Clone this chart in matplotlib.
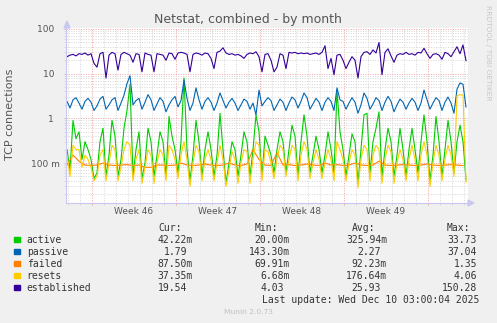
import numpy as np
import matplotlib
matplotlib.use('Agg')
import matplotlib.pyplot as plt
from matplotlib.ticker import FixedLocator, FixedFormatter, LogLocator, NullFormatter
from matplotlib.patches import Polygon, Rectangle
from matplotlib.transforms import blended_transform_factory

# samples every 6 hours, failed every 12 hours
established = [24, 26, 27, 25, 28, 27, 29, 26, 28, 17, 14, 28, 30, 8, 26, 30, 28, 12, 27, 30,
               28, 26, 18, 28, 27, 11, 29, 27, 26, 11, 28, 27, 26, 20, 29, 28, 21, 29, 30, 29,
               27, 11, 27, 29, 28, 26, 29, 28, 22, 13, 30, 32, 38, 29, 27, 28, 26, 27, 25, 22,
               27, 29, 28, 31, 24, 11, 27, 28, 20, 11, 14, 28, 26, 13, 30, 29, 30, 28, 29, 28,
               29, 27, 28, 29, 27, 30, 42, 13, 22, 9.5, 26, 27, 20, 13, 18, 24, 20, 8, 24, 30,
               31, 27, 34, 29, 50, 9.5, 30, 36, 25, 18, 26, 28, 27, 30, 27, 28, 26, 30, 29, 37,
               28, 22, 27, 28, 26, 21, 30, 28, 24, 31, 40, 28, 44, 19.54]
passive = [2.4, 1.7, 2.6, 2.9, 2.2, 1.6, 2.4, 2.8, 2.3, 1.5, 1.9, 2.7, 3.1, 1.6, 2.0, 2.6, 2.9, 1.5, 2.2, 3.3,
           6.0, 9.0, 2.0, 2.5, 2.8, 1.6, 2.3, 3.4, 2.6, 1.5, 2.1, 2.9, 2.4, 1.4, 2.0, 2.6, 3.1, 1.8, 2.5, 7.2,
           2.8, 1.5, 2.2, 4.8, 2.6, 1.6, 2.4, 2.9, 2.3, 1.5, 2.2, 3.7, 2.5, 1.7, 2.3, 2.8, 2.2, 1.5, 2.0, 2.7,
           2.4, 1.6, 2.2, 1.2, 4.3, 1.9, 2.4, 2.9, 2.5, 1.5, 2.0, 2.7, 2.3, 1.5, 2.2, 3.0, 2.6, 1.7, 2.4, 3.7,
           2.9, 1.6, 2.1, 2.8, 2.3, 1.5, 2.3, 2.9, 2.4, 1.5, 4.8, 2.6, 2.4, 1.6, 2.2, 2.9, 2.3, 1.3, 2.0, 3.7,
           2.8, 1.6, 2.1, 2.9, 2.5, 1.5, 2.3, 3.1, 2.4, 1.4, 2.0, 2.7, 2.3, 1.6, 2.2, 2.8, 2.3, 1.5, 2.2, 4.3,
           2.6, 1.6, 2.2, 2.9, 2.5, 1.5, 2.3, 3.0, 2.2, 1.3, 4.5, 6.2, 5.8, 1.79]
active = [0.20, 0.07, 0.9, 0.35, 0.5, 0.12, 0.3, 0.2, 0.12, 0.045, 0.06, 0.3, 0.6, 0.05, 0.15, 0.9, 0.4, 0.05, 0.12, 0.6,
          1.5, 5.8, 0.05, 0.2, 0.5, 0.045, 0.1, 0.6, 0.3, 0.05, 0.15, 0.5, 0.3, 0.05, 1.1, 0.4, 0.2, 0.06, 0.3, 8.0,
          0.2, 0.04, 0.15, 0.9, 0.3, 0.05, 0.2, 0.5, 0.2, 0.05, 0.15, 1.3, 0.2, 0.035, 0.1, 0.3, 0.2, 0.05, 0.15, 0.5,
          0.3, 0.05, 0.2, 1.2, 0.5, 0.05, 0.4, 0.25, 0.15, 0.06, 0.2, 0.5, 0.3, 0.06, 0.2, 0.7, 0.4, 0.05, 0.3, 1.2,
          0.4, 0.06, 0.15, 0.4, 0.2, 0.06, 0.15, 0.5, 0.2, 0.06, 4.3, 0.5, 0.2, 0.05, 0.15, 0.45, 0.3, 0.035, 0.2, 1.2,
          1.3, 0.06, 0.3, 0.6, 1.4, 0.05, 0.2, 0.6, 0.3, 0.05, 0.15, 0.6, 0.2, 0.05, 0.2, 0.6, 0.2, 0.06, 0.3, 1.2,
          0.3, 0.04, 0.15, 1.1, 0.3, 0.05, 0.2, 0.9, 0.3, 0.06, 0.3, 0.7, 0.3, 0.042]
resets = [0.15, 0.05, 0.25, 0.2, 0.2, 0.08, 0.15, 0.12, 0.08, 0.04, 0.05, 0.15, 0.2, 0.04, 0.1, 0.25, 0.2, 0.04, 0.08, 0.2,
          0.3, 0.25, 0.04, 0.12, 0.2, 0.035, 0.08, 0.2, 0.15, 0.035, 0.1, 0.2, 0.15, 0.04, 0.25, 0.2, 0.12, 0.045, 0.15, 0.3,
          0.12, 0.03, 0.1, 0.25, 0.18, 0.04, 0.12, 0.2, 0.12, 0.04, 0.1, 0.25, 0.12, 0.03, 0.07, 0.18, 0.12, 0.035, 0.1, 0.2,
          0.18, 0.035, 0.12, 0.3, 0.25, 0.04, 0.2, 0.18, 0.1, 0.045, 0.12, 0.25, 0.2, 0.05, 0.12, 0.25, 0.2, 0.04, 0.15, 0.3,
          0.2, 0.045, 0.1, 0.2, 0.12, 0.045, 0.1, 0.2, 0.12, 0.04, 0.3, 0.2, 0.12, 0.04, 0.1, 0.2, 0.15, 0.028, 0.12, 0.25,
          0.2, 0.04, 0.15, 0.25, 0.2, 0.035, 0.12, 0.25, 0.18, 0.035, 0.1, 0.2, 0.12, 0.04, 0.12, 0.25, 0.12, 0.04, 0.15, 0.3,
          0.15, 0.03, 0.1, 0.25, 0.15, 0.04, 0.12, 0.25, 0.15, 0.05, 3.2, 3.4, 3.3, 0.037]
failed = [0.09, 0.15, 0.11, 0.09, 0.088, 0.09, 0.1, 0.09, 0.088, 0.09, 0.092, 0.088, 0.09, 0.08, 0.08, 0.09, 0.09,
          0.088, 0.09, 0.1, 0.09, 0.088, 0.09, 0.095, 0.09, 0.088, 0.09, 0.1, 0.09, 0.088, 0.095, 0.2, 0.12, 0.09,
          0.088, 0.17, 0.09, 0.092, 0.088, 0.09, 0.095, 0.09, 0.088, 0.1, 0.09, 0.092, 0.088, 0.09, 0.1, 0.09,
          0.088, 0.09, 0.11, 0.09, 0.088, 0.09, 0.092, 0.09, 0.088, 0.09, 0.095, 0.09, 0.088, 0.09, 0.092, 0.09, 0.0875]

names = ['active', 'passive', 'failed', 'resets', 'established']
colors = ['#00CC00', '#0066B3', '#FF8000', '#FFCC00', '#330099']
cur = [0.04222, 1.79, 0.0875, 0.03735, 19.54]
vmin = [0.02, 0.1433, 0.06991, 0.00668, 4.03]
avg = [0.32594, 2.27, 0.09223, 0.17664, 25.93]
vmax = [33.73, 37.04, 1.35, 4.06, 150.28]
weeks = ['Week 46', 'Week 47', 'Week 48', 'Week 49']
last_update = 'Last update: Wed Dec 10 03:00:04 2025'

W, H = 497, 323
fig = plt.figure(figsize=(W / 100, H / 100), dpi=100, facecolor='#F0F0F0')


def fx(px):
    return px / W


def fy(py):
    return 1 - py / H


ax = fig.add_axes([fx(66), fy(203), fx(468) - fx(66), fy(28) - fy(203)])
ax.set_facecolor('white')
ax.set_yscale('log')
ax.set_xlim(-2, 802)
ax.set_ylim(10 ** (-1 - 40 / 44.67), 10 ** (2 + 1 / 44.67))

# hours from start, week boundaries on mondays
t = np.arange(len(active)) * 6
t_failed = np.arange(len(failed)) * 12
week_starts = [50, 218, 386, 554, 722]
days = [d for d in range(2, 802, 24) if (d - 50) % 168 != 0]

ax.xaxis.set_major_locator(FixedLocator(week_starts))
ax.xaxis.set_minor_locator(FixedLocator(days))
ax.xaxis.set_major_formatter(NullFormatter())
ax.yaxis.set_major_locator(FixedLocator([0.1, 1, 10, 100]))
ax.yaxis.set_major_formatter(FixedFormatter(['100 m', '1\u2007', '10\u2007', '100\u2007']))
ax.yaxis.set_minor_locator(LogLocator(base=10, subs=np.arange(2, 10), numticks=20))
ax.yaxis.set_minor_formatter(NullFormatter())

ax.set_axisbelow(True)
ax.grid(which='minor', color='#D6D6D6', linestyle=(0, (1, 1.5)), linewidth=0.7)
ax.grid(which='major', color='#F2A0A0', linestyle=(0, (1, 1.5)), linewidth=0.7)
ax.tick_params(which='both', direction='out', length=1.5, width=0.6)
ax.tick_params(which='major', color='#F2A0A0', labelsize=6.5, labelcolor='#555555', pad=2.9)
ax.tick_params(which='minor', color='#D6D6D6')

for s in ['top', 'right']:
    ax.spines[s].set_visible(False)
for s in ['left', 'bottom']:
    ax.spines[s].set_color('#C8C8F0')
    ax.spines[s].set_linewidth(0.8)

lw = 0.8
ax.plot(t, active, color=colors[0], lw=lw)
ax.plot(t, passive, color=colors[1], lw=lw)
ax.plot(t_failed, failed, color=colors[2], lw=lw)
ax.plot(t, resets, color=colors[3], lw=lw)
ax.plot(t, established, color=colors[4], lw=lw)

trans = blended_transform_factory(ax.transData, fig.transFigure)
for k, w in enumerate(weeks):
    mid = (week_starts[k] + week_starts[k + 1]) / 2
    ax.text(mid, fy(212), w, transform=trans, ha='center', va='center',
            fontsize=6.5, color='#555555')

# axis arrows
fig.patches.append(Polygon([(fx(64), fy(28)), (fx(70), fy(28)), (fx(67), fy(21))],
                           closed=True, transform=fig.transFigure, color='#C8C8F0'))
fig.patches.append(Polygon([(fx(468), fy(200)), (fx(468), fy(206)), (fx(474), fy(203))],
                           closed=True, transform=fig.transFigure, color='#C8C8F0'))

fig.text(fx(247.5), fy(19), 'Netstat, combined - by month', ha='center', va='center',
         fontsize=9, color='#555555')
fig.text(fx(10.5), fy(114), 'TCP connections', rotation=90, ha='center', va='center',
         fontsize=8, color='#555555')
fig.text(fx(488), fy(53), 'RRDTOOL / TOBI OETIKER', rotation=-90, ha='center', va='center',
         fontsize=5.4, color='#C8C8C8')

# legend table
mono = dict(family='DejaVu Sans Mono', fontsize=7, color='#333333', va='center')
char_w = 0.602 * 7 * 100 / 72


def fmt(v):
    if v < 1:
        return '%.2fm' % (v * 1000), True
    return '%.2f' % v, False


for label, left in zip(['Cur:', 'Min:', 'Avg:', 'Max:'], [158, 255, 352, 447]):
    fig.text(fx(left), fy(228), label, ha='left', **mono)

col_right = [193, 290, 387, 483]
for r, name in enumerate(names):
    yy = 239.7 + 12 * r
    fig.patches.append(Rectangle((fx(14), fy(yy + 2.7)), fx(5.5), 5.5 / H,
                                 transform=fig.transFigure, color=colors[r]))
    fig.text(fx(26.7), fy(yy), name, ha='left', **mono)
    for c, vals in enumerate([cur, vmin, avg, vmax]):
        s, unit = fmt(vals[r])
        right = col_right[c] if unit else col_right[c] - char_w
        fig.text(fx(right), fy(yy), s, ha='right', **mono)

fig.text(fx(262), fy(299.7), last_update, ha='left', **mono)
fig.text(fx(248), fy(312.3), 'Munin 2.0.73', ha='center', va='center',
         fontsize=5.4, color='#C0C0C0')

fig.savefig('out.png', dpi=100, facecolor=fig.get_facecolor())
